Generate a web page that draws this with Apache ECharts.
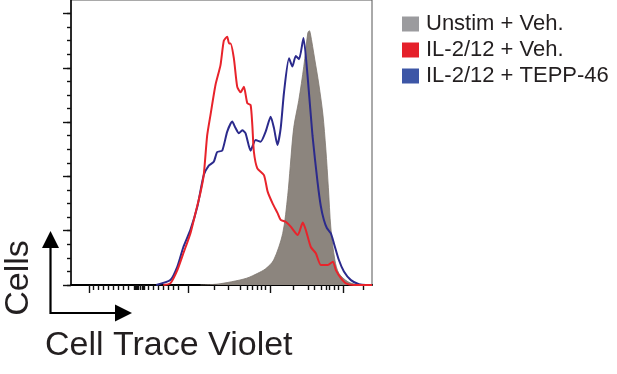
<!doctype html>
<html lang="en">
<head>
    <meta charset="UTF-8">
    <script src="https://cdn.jsdelivr.net/npm/echarts@6/dist/echarts.min.js"></script>
    <title>Cell Trace Violet</title>
    <style>
        html, body { margin: 0; padding: 0; background: #fff; }
    </style>
</head>
<body>
<div id="main" style="width: 617px;height:374px;"></div>
<script>
    // channel positions (x) and cell counts (y)
    var unstimX = [129, 145, 160, 175, 186, 194, 202, 211, 216, 218.5, 222, 227, 232, 236, 237.5, 238.5, 243, 247, 251, 254, 256.5, 259, 263, 267, 276, 286];
    var unstimY = [0, 0.3, 1.2, 2.5, 4.3, 6, 9.2, 19, 33, 43.6, 58, 68, 80.5, 92.8, 93.7, 92.8, 83, 74, 63, 50, 36, 21, 9.2, 4.3, 1.2, 0];

    var vehX = [92, 99, 106, 112, 119, 124, 129, 132.3, 135.7, 139, 144, 149, 152.3, 155.7, 157.5, 159, 162.3, 165.7, 169, 172.3, 175.7, 179, 180.7, 182.3, 185.7, 192.3, 196, 201, 206, 209, 214, 219, 226, 231, 234, 239, 244, 249, 256, 261, 264, 269, 274, 282, 300];
    var vehY = [0, 0.6, 5.5, 11.7, 19, 26.4, 34, 40.5, 55, 62.6, 73.7, 81, 90, 91.5, 89, 89, 83.6, 73, 71, 73, 67, 66.3, 59, 49, 43, 40.5, 34.4, 30, 26.4, 24, 23.3, 21.5, 18.4, 23, 20.3, 14, 11.7, 7.4, 7.4, 8.6, 5.5, 2.5, 0.6, 0, 0];

    var teppX = [85, 99, 106, 112, 119, 126, 132.3, 137.3, 142.3, 145.7, 150.7, 155.7, 160.7, 164, 167.3, 170.7, 174, 179, 184, 189, 194, 199, 202.3, 205.7, 209, 212.3, 217.3, 220.7, 224, 227.3, 231.7, 235.7, 240.7, 245.7, 249, 252, 255, 259, 262, 267, 272, 279, 287, 294, 300];
    var teppY = [0, 1.8, 6.8, 14, 20.3, 29, 40.5, 44, 45.4, 49, 49.5, 56.5, 60.2, 57.8, 55.9, 57, 55.9, 49.5, 53.4, 52.8, 56.5, 62, 57.8, 51.6, 57.8, 71, 83.5, 80.5, 84.4, 83.2, 91, 77.4, 55, 38, 29, 24, 21, 19, 15.4, 9.2, 5, 1.8, 0.3, 0, 0];

    var seriesNames = ['Unstim + Veh.', 'IL-2/12 + Veh.', 'IL-2/12 + TEPP-46'];

    // biexponential axis ticks (channel positions)
    var xMajorTicks = [18, 117, 199, 271];
    var xMinorTicks = [22, 27, 32, 37, 42, 47, 52, 57, 63, 64, 65, 66, 67, 69, 71, 72, 73, 77, 82, 87, 92, 97, 102, 107,
        143, 157, 169, 176, 181, 186, 190, 194, 222, 236, 242, 249, 254, 257, 262, 266, 291];
    var yMajorStep = 20;
    var yMinorStep = 5;
    var xMax = 300;
    var yMax = 105;

    function pairs(xs, ys) {
        var out = [];
        for (var i = 0; i < xs.length; i++) {
            out.push([xs[i], ys[i]]);
        }
        return out;
    }

    var xCats = [];
    for (var i = 0; i <= xMax; i++) xCats.push(String(i));
    var yCats = [];
    for (var j = 0; j <= yMax; j++) yCats.push(String(j));

    var font = '"Liberation Sans", Arial, Helvetica, sans-serif';
    var ink = '#231f20';

    var myChart = echarts.init(document.getElementById('main'));

    function tickAxis(dim, cats, fn, len) {
        return {
            type: 'category',
            data: cats,
            boundaryGap: false,
            position: dim === 'x' ? 'bottom' : 'left',
            axisLine: {show: false},
            axisLabel: {show: false},
            splitLine: {show: false},
            axisTick: {
                show: true,
                interval: fn,
                length: len,
                lineStyle: {color: '#111', width: 1.4}
            }
        };
    }

    var option = {
        animation: false,
        backgroundColor: '#fff',
        grid: {
            left: 71,
            top: 0,
            width: 301,
            height: 285,
            show: true,
            borderColor: '#555',
            borderWidth: 1
        },
        legend: {
            orient: 'vertical',
            left: 397,
            top: 8,
            icon: 'rect',
            itemWidth: 17,
            itemHeight: 15,
            itemGap: 4,
            selectedMode: false,
            textStyle: {
                fontFamily: font,
                fontSize: 22,
                color: ink,
                padding: [0, 0, 0, 2]
            },
            data: [
                {name: seriesNames[0], itemStyle: {color: '#9b9b9e'}},
                {name: seriesNames[1], itemStyle: {color: '#e5202a'}},
                {name: seriesNames[2], itemStyle: {color: '#3d56a6'}}
            ]
        },
        xAxis: [
            {
                type: 'value',
                min: 0,
                max: xMax,
                position: 'bottom',
                axisLine: {show: true, lineStyle: {color: '#000', width: 2}},
                axisTick: {show: false},
                axisLabel: {show: false},
                splitLine: {show: false}
            },
            tickAxis('x', xCats, function (idx) { return xMajorTicks.indexOf(idx) >= 0; }, 8),
            tickAxis('x', xCats, function (idx) { return xMinorTicks.indexOf(idx) >= 0; }, 5)
        ],
        yAxis: [
            {
                type: 'value',
                min: 0,
                max: yMax,
                position: 'left',
                axisLine: {show: true, lineStyle: {color: '#000', width: 1.5}},
                axisTick: {show: false},
                axisLabel: {show: false},
                splitLine: {show: false}
            },
            tickAxis('y', yCats, function (idx) { return idx % yMajorStep === 0; }, 8),
            tickAxis('y', yCats, function (idx) { return idx % yMinorStep === 0 && idx < yMax; }, 4)
        ],
        series: [
            {
                name: seriesNames[0],
                type: 'line',
                data: pairs(unstimX, unstimY),
                smooth: 0.3,
                showSymbol: false,
                color: '#8c857e',
                lineStyle: {width: 0.8, color: '#7d766f'},
                areaStyle: {color: '#8c857e', opacity: 1}
            },
            {
                name: seriesNames[2],
                type: 'line',
                data: pairs(teppX, teppY),
                smooth: 0.2,
                showSymbol: false,
                color: '#2b2a8c',
                lineStyle: {width: 2, color: '#2b2a8c'}
            },
            {
                name: seriesNames[1],
                type: 'line',
                data: pairs(vehX, vehY),
                smooth: 0.2,
                showSymbol: false,
                color: '#e8232b',
                lineStyle: {width: 2, color: '#e8232b'}
            }
        ],
        graphic: [
            // axis arrows
            {type: 'polyline', shape: {points: [[50.5, 247], [50.5, 313], [116, 313]]},
                style: {stroke: '#000', lineWidth: 2.2, fill: null}},
            {type: 'polygon', shape: {points: [[42, 248], [59, 248], [50.5, 231]]}, style: {fill: '#000'}},
            {type: 'polygon', shape: {points: [[115, 304.5], [115, 321.5], [132, 313]]}, style: {fill: '#000'}},
            {
                type: 'text',
                x: 18.5,
                y: 278,
                rotation: Math.PI / 2,
                style: {
                    text: 'Cells',
                    fontFamily: font,
                    fontSize: 34,
                    fill: ink,
                    textAlign: 'center',
                    textVerticalAlign: 'middle'
                }
            },
            {
                type: 'text',
                x: 45,
                y: 346,
                style: {
                    text: 'Cell Trace Violet',
                    fontFamily: font,
                    fontSize: 34,
                    fill: ink,
                    textAlign: 'left',
                    textVerticalAlign: 'middle'
                }
            }
        ]
    };

    myChart.setOption(option);
</script>
</body>
</html>
